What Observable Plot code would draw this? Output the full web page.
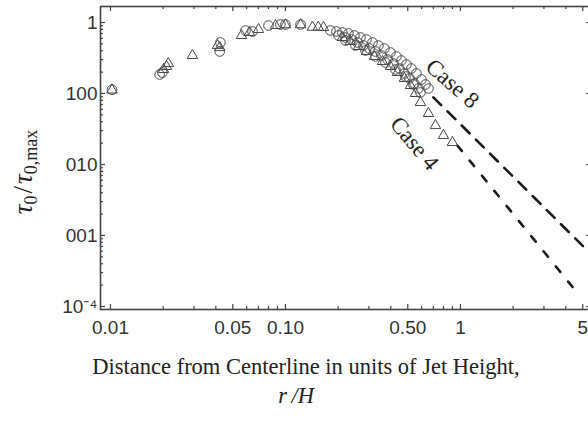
<!DOCTYPE html>
<html><head><meta charset="utf-8">
<script src="https://cdn.jsdelivr.net/npm/d3@7"></script>
<script src="https://cdn.jsdelivr.net/npm/@observablehq/plot@0.6"></script>
<style>html,body{margin:0;padding:0;background:#fff;overflow:hidden;width:588px;height:424px}</style>
</head><body><div id="chart"></div>
<script>
// ---- data ----
const circleX = [0.0102, 0.0191, 0.0198, 0.0425, 0.0421, 0.0591, 0.0648, 0.080, 0.0936, 0.100, 0.122,
  0.1807, 0.1956, 0.2117, 0.2291, 0.2479, 0.2683, 0.2903, 0.3142, 0.3400, 0.3679, 0.3981, 0.4309, 0.4601, 0.4914, 0.5248, 0.5605, 0.5986, 0.631, 0.6565,
  0.2009, 0.2203, 0.2383, 0.2579, 0.2791, 0.3020, 0.3268, 0.3536, 0.3827, 0.4142, 0.4481, 0.4786, 0.5112, 0.5460, 0.5754,
  0.2203, 0.2512, 0.2865, 0.3268, 0.3727, 0.4252, 0.4850, 0.5388, 0.5907];
const circleY = [0.113, 0.185, 0.197, 0.523, 0.39, 0.772, 0.747, 0.907, 0.937, 0.937, 0.937,
  0.7717, 0.7466, 0.7230, 0.6999, 0.6561, 0.6146, 0.5762, 0.5229, 0.4743, 0.4303, 0.3780, 0.3320, 0.2915, 0.2562, 0.2250, 0.1913, 0.1574, 0.1339, 0.1176,
  0.6561, 0.6146, 0.5762, 0.5229, 0.4743, 0.4303, 0.3905, 0.3428, 0.3011, 0.2646, 0.2250, 0.1913, 0.1627, 0.1383, 0.1176,
  0.5578, 0.4743, 0.4034, 0.3320, 0.2733, 0.2178, 0.1735, 0.1339, 0.1033];
const triangleX = [0.0102, 0.0201, 0.0209, 0.0214, 0.0294, 0.0409, 0.0421, 0.0561, 0.0623, 0.0701, 0.0877, 0.100, 0.122, 0.1426, 0.154, 0.165,
  0.2117, 0.2351, 0.2613, 0.2903, 0.3226, 0.3584, 0.3981, 0.4365, 0.4786, 0.5181, 0.5532, 0.5907, 0.6565, 0.7197, 0.7995, 0.9000];
const triangleY = [0.112, 0.218, 0.24, 0.264, 0.343, 0.474, 0.444, 0.656, 0.723, 0.797, 0.907, 0.93, 0.93, 0.859, 0.859, 0.85,
  0.6146, 0.5400, 0.4592, 0.3905, 0.3320, 0.2823, 0.2400, 0.1976, 0.1627, 0.1297, 0.1000, 0.0747, 0.0523, 0.0354, 0.0256, 0.0204];
const case8X = [0.70, 1, 2, 3, 5, 5.6];
const case8Y = [0.0883, 0.0369, 0.00675, 0.0025, 0.000714, 0.000542];
const case4X = [0.96, 1, 2, 3, 4.6];
const case4Y = [0.0185, 0.0164, 0.00201, 0.00059, 0.000161];
const xTicks = [0.01, 0.05, 0.1, 0.5, 1, 5];
const xTickLabels = ["0.01", "0.05", "0.10", "0.50", "1", "5"];
const yTicks = [1, 0.1, 0.01, 0.001, 0.0001];
const yTickLabels = ["1", "100", "010", "001", "10⁻⁴"];
const caseNames = ["Case 8", "Case 4"];
const caseLabelX = [0.90, 0.546];
const caseLabelY = [0.138, 0.0198];
const caseLabelAngle = [41, 50];
const xTitle = "Distance from Centerline in units of Jet Height,";
const xTitle2 = "r\u2009/H";

// ---- layout ----
const W = 602, H = 424, mL = 100, mR = 11, mT = 6, mB = 115;
const FW = W - mL - mR, FH = H - mT - mB;
const xMinor = [], yMinor = [];
for (const d of [0.01, 0.1, 1]) for (let k = 2; k <= 9; k++) {
  const v = +(k * d).toPrecision(3);
  if (v < 5.6 && !xTicks.includes(v)) xMinor.push(v);
}
for (const d of [0.0001, 0.001, 0.01, 0.1]) for (let k = 2; k <= 9; k++) yMinor.push(+(k * d).toPrecision(3));

const circles = circleX.map((x, i) => ({x, y: circleY[i]}));
const triangles = triangleX.map((x, i) => ({x, y: triangleY[i]}));
const case8 = case8X.map((x, i) => ({x, y: case8Y[i]}));
const case4 = case4X.map((x, i) => ({x, y: case4Y[i]}));
const caseLabels = caseNames.map((t, i) => ({t, x: caseLabelX[i], y: caseLabelY[i], a: caseLabelAngle[i]}));

const axisCol = "#444";
const serif = "'Liberation Serif', 'Times New Roman', serif";

const plot = Plot.plot({
  width: W, height: H, marginLeft: mL, marginRight: mR, marginTop: mT, marginBottom: mB,
  style: {fontFamily: "'Liberation Sans', Arial, sans-serif", fontSize: "19px", color: "#333", background: "#fff", maxWidth: "none", overflow: "visible"},
  x: {type: "log", domain: [0.00877, 5.61], axis: null},
  y: {type: "log", domain: [9.07e-5, 1.68], axis: null},
  marks: [
    Plot.tickX(xTicks, {x: d => d, insetTop: FH - 5, stroke: axisCol, strokeWidth: 1.2}),
    Plot.tickX(xMinor, {x: d => d, insetTop: FH - 3, stroke: axisCol, strokeWidth: 1.2}),
    Plot.tickX(xTicks, {x: d => d, insetBottom: FH - 5, stroke: axisCol, strokeWidth: 1.2}),
    Plot.tickX(xMinor, {x: d => d, insetBottom: FH - 3, stroke: axisCol, strokeWidth: 1.2}),
    Plot.tickY(yTicks, {y: d => d, insetRight: FW - 5, stroke: axisCol, strokeWidth: 1.2}),
    Plot.tickY(yMinor, {y: d => d, insetRight: FW - 3, stroke: axisCol, strokeWidth: 1.2}),
    Plot.tickY(yTicks, {y: d => d, insetLeft: FW - 5, stroke: axisCol, strokeWidth: 1.2}),
    Plot.tickY(yMinor, {y: d => d, insetLeft: FW - 3, stroke: axisCol, strokeWidth: 1.2}),
    Plot.frame({stroke: axisCol, strokeWidth: 1.6}),
    Plot.text(xTicks, {x: d => d, text: (d, i) => xTickLabels[i], frameAnchor: "bottom", lineAnchor: "top", dy: 11, fill: "#333"}),
    Plot.text(yTicks, {y: d => d, text: (d, i) => yTickLabels[i], frameAnchor: "left", textAnchor: "end", dx: -3, fill: "#333"}),
    Plot.line(case8, {x: "x", y: "y", stroke: "#1a1a1a", strokeWidth: 2.6, strokeDasharray: "11,9"}),
    Plot.line(case4, {x: "x", y: "y", stroke: "#1a1a1a", strokeWidth: 2.6, strokeDasharray: "7,12.5"}),
    Plot.dot(circles, {x: "x", y: "y", r: 4.8, stroke: "#4a4a4a", fill: "none", strokeWidth: 1}),
    Plot.dot(triangles, {x: "x", y: "y", symbol: "triangle", r: 3.9, stroke: "#4a4a4a", fill: "none", strokeWidth: 1}),
    Plot.text(caseLabels, {x: "x", y: "y", text: "t", rotate: "a", fontFamily: serif, fontSize: 23, fill: "#222"}),
    Plot.text([xTitle], {text: d => d, frameAnchor: "bottom", dx: -40, dy: 64, fontFamily: serif, fontSize: 22.5, fill: "#222"}),
    Plot.text([xTitle2], {text: d => d, frameAnchor: "bottom", dx: -50, dy: 93, fontFamily: serif, fontSize: 22.5, fontStyle: "italic", fill: "#222"})
  ]
});

// y-axis title with subscripts
const t = d3.select(plot).append("text")
  .attr("transform", "translate(32,172) rotate(-90)")
  .attr("text-anchor", "middle")
  .attr("font-family", serif)
  .attr("font-size", 27)
  .attr("fill", "#222");
t.append("tspan").attr("font-style", "italic").text("τ");
t.append("tspan").attr("font-size", 18).attr("dy", 5).text("0");
t.append("tspan").attr("dy", -5).attr("dx", 2).text("/");
t.append("tspan").attr("font-style", "italic").attr("dx", 2).text("τ");
t.append("tspan").attr("font-size", 18).attr("dy", 5).text("0,max");

document.getElementById("chart").appendChild(plot);
</script></body></html>
